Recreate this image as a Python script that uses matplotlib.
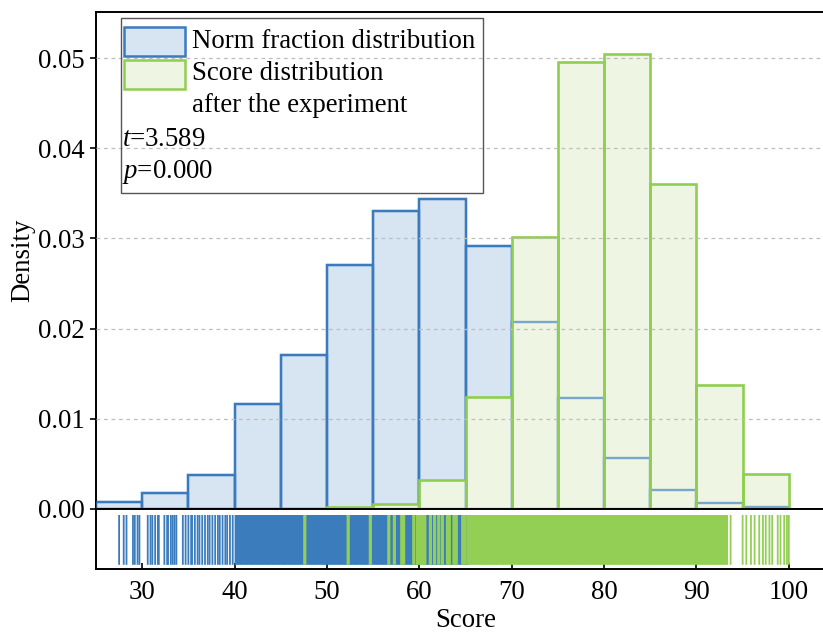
import numpy as np
import matplotlib
matplotlib.use('Agg')
import matplotlib.pyplot as plt
from matplotlib.patches import Rectangle

plt.rcParams['font.family'] = ['Liberation Serif', 'DejaVu Serif']
plt.rcParams['mathtext.fontset'] = 'custom'
plt.rcParams['mathtext.rm'] = 'Liberation Serif'
plt.rcParams['mathtext.it'] = 'Liberation Serif:italic'

# ---------------- data ----------------
bin_edges = [25, 30, 35, 40, 45, 50, 55, 60, 65, 70, 75, 80, 85, 90, 95, 100]
norm_density = [0.00073, 0.00177, 0.0038, 0.01164, 0.0171, 0.0270, 0.0330, 0.0344,
                0.0292, 0.0207, 0.0123, 0.00565, 0.00214, 0.00066, 0.0002]
after_density = [0.0, 0.0, 0.0, 0.0, 0.00005, 0.0002, 0.00058, 0.0032,
                 0.0124, 0.0302, 0.0496, 0.0504, 0.0360, 0.01375, 0.00388]

norm_rug = [27.5, 28.0, 28.3, 29.0, 29.2, 29.5, 29.7,
            30.6, 30.9, 31.1, 31.4, 31.7, 31.8, 32.4, 32.7, 32.8, 33.1, 33.3, 33.5, 33.7, 34.4, 34.7,
            35.0, 35.3, 35.4, 35.7, 36.0, 36.2, 36.5, 36.8, 37.1, 37.3, 37.6, 37.9, 38.2, 38.4,
            38.7, 39.0, 39.2, 39.5, 39.8, 40.1,
            40.25, 40.5, 40.75, 41.0, 41.25, 41.5, 41.75, 42.0, 42.25, 42.5, 42.75, 43.0,
            43.25, 43.5, 43.75, 44.0, 44.25, 44.5, 44.75, 45.0, 45.25, 45.5, 45.75, 46.0,
            46.25, 46.5, 46.75, 47.0, 47.25, 47.5, 47.75, 48.0, 48.25, 48.5, 48.75, 49.0,
            49.25, 49.5, 49.75, 50.0, 50.25, 50.5, 50.75, 51.0, 51.25, 51.5, 51.75, 52.0,
            52.25, 52.5, 52.75, 53.0, 53.25, 53.5, 53.75, 54.0, 54.25, 54.5, 54.75, 55.0,
            55.25, 55.5, 55.75, 56.0, 56.25, 56.5, 56.75, 57.0, 57.25, 57.5, 57.75, 58.0,
            58.25, 58.5, 58.75, 59.0, 59.25, 59.5, 59.75, 60.0, 60.25, 60.5, 60.75, 61.0,
            61.25, 61.5, 61.75, 62.0, 62.25, 62.5, 62.75, 63.0, 63.25, 63.5, 63.75, 64.0,
            64.25, 64.5, 64.75, 65.0, 65.2]

after_rug = [47.6, 52.3, 54.7, 56.7, 57.3, 58.1, 58.3, 59.4,
             59.8, 60.0, 60.2, 60.4, 60.6, 61.2, 61.65, 62.1, 62.5, 63.05, 63.25, 63.75, 64.0,
             64.7, 64.9,
             65.25, 65.5, 65.75, 66.0, 66.25, 66.5, 66.75, 67.0, 67.25, 67.5, 67.75, 68.0,
             68.25, 68.5, 68.75, 69.0, 69.25, 69.5, 69.75, 70.0, 70.25, 70.5, 70.75, 71.0,
             71.25, 71.5, 71.75, 72.0, 72.25, 72.5, 72.75, 73.0, 73.25, 73.5, 73.75, 74.0,
             74.25, 74.5, 74.75, 75.0, 75.25, 75.5, 75.75, 76.0, 76.25, 76.5, 76.75, 77.0,
             77.25, 77.5, 77.75, 78.0, 78.25, 78.5, 78.75, 79.0, 79.25, 79.5, 79.75, 80.0,
             80.25, 80.5, 80.75, 81.0, 81.25, 81.5, 81.75, 82.0, 82.25, 82.5, 82.75, 83.0,
             83.25, 83.5, 83.75, 84.0, 84.25, 84.5, 84.75, 85.0, 85.25, 85.5, 85.75, 86.0,
             86.25, 86.5, 86.75, 87.0, 87.25, 87.5, 87.75, 88.0, 88.25, 88.5, 88.75, 89.0,
             89.25, 89.5, 89.75, 90.0, 90.25, 90.5, 90.75, 91.0, 91.25, 91.5, 91.75, 92.0,
             92.25, 92.5, 92.75, 93.0, 93.25,
             93.7, 95.0, 95.4, 95.9, 96.3, 96.8, 97.2, 97.5, 97.9, 98.2, 98.8, 99.1, 99.5, 99.8, 100.0]

y_ticks = [0.00, 0.01, 0.02, 0.03, 0.04, 0.05]
x_ticks = [30, 40, 50, 60, 70, 80, 90, 100]
label_norm = 'Norm fraction distribution'
label_after_1 = 'Score distribution'
label_after_2 = 'after the experiment'
stat_t = '3.589'
stat_p = '0.000'

# ---------------- style ----------------
blue_edge = '#3a7bbf'
blue_fill = '#d7e5f2'
green_edge = '#8fce4f'
green_fill = '#eef6e3'
rug_blue = '#3b7cbd'
rug_green = '#93cf55'
FS = 19.3

W, H = 823, 632
L, R = 96, 835
T, B0, B1 = 12, 509, 569

fig = plt.figure(figsize=(W / 100, H / 100), dpi=100)
ax = fig.add_axes([L / W, 1 - B0 / H, (R - L) / W, (B0 - T) / H])
ax2 = fig.add_axes([L / W, 1 - B1 / H, (R - L) / W, (B1 - B0) / H], sharex=ax)

edges = np.array(bin_edges, dtype=float)
left = edges[:-1]
widths = np.diff(edges)
nd = np.array(norm_density)
ad = np.array(after_density)
m = ad > 0

ax.bar(left, nd, width=widths, align='edge', color=blue_fill, edgecolor=blue_edge,
       linewidth=1.7, zorder=2)
ax.bar(left[m], ad[m], width=widths[m], align='edge', color=green_fill,
       edgecolor='none', zorder=3)
ax.bar(left, nd, width=widths, align='edge', fill=False, edgecolor=blue_edge,
       alpha=0.65, linewidth=1.7, zorder=4)
ax.bar(left[m], ad[m], width=widths[m], align='edge', fill=False, edgecolor=green_edge,
       linewidth=1.9, zorder=5)

ax.set_xlim(25, 105)
ax.set_ylim(0, (B0 - T) / 9020.0)
ax.set_yticks(y_ticks)
ax.set_yticklabels([f'{v:.2f}' for v in y_ticks])
for v in y_ticks[1:]:
    ax.axhline(v, color='#bdbdbd', lw=0.9, ls=(0, (3, 3)), zorder=6)
ax.tick_params(axis='y', direction='out', length=4, width=1.2, labelsize=FS, pad=4)
ax.tick_params(axis='x', bottom=False, labelbottom=False)
ax.set_ylabel('Density', fontsize=FS, labelpad=2)
for s in ax.spines.values():
    s.set_linewidth(1.4)

# legend drawn manually
def axc(px, py):
    return ((px - L) / (R - L), (B0 - py) / (B0 - T))

def aw(pw):
    return pw / (R - L)

def ah(ph):
    return ph / (B0 - T)

ax.add_patch(Rectangle(axc(121, 193), aw(362), ah(175), transform=ax.transAxes,
                       fill=False, ec='#555555', lw=1.0, zorder=7))
ax.add_patch(Rectangle(axc(124, 56), aw(61), ah(29), transform=ax.transAxes,
                       fc=blue_fill, ec=blue_edge, lw=1.8, zorder=7))
ax.add_patch(Rectangle(axc(124, 89), aw(61), ah(29), transform=ax.transAxes,
                       fc=green_fill, ec=green_edge, lw=1.8, zorder=7))
txt_kw = dict(transform=ax.transAxes, fontsize=FS, ha='left', va='center', zorder=8)
ax.text(*axc(192, 41), label_norm, **txt_kw)
ax.text(*axc(192, 74), label_after_1, **txt_kw)
ax.text(*axc(192, 106), label_after_2, **txt_kw)
ax.text(*axc(122, 140), r'$t$=' + stat_t, **txt_kw)
ax.text(*axc(122, 172), r'$p$=' + stat_p, **txt_kw)

# rug: thin lines where isolated, thicker where the marks are packed
def rug_widths(vals):
    v = np.asarray(vals, dtype=float)
    return np.where((v > 40.2) & (v < 93.3), 2.3, 1.3)

ax2.vlines(norm_rug, 0.07, 0.9, colors=rug_blue, linewidths=rug_widths(norm_rug),
           zorder=2, snap=False)
ax2.vlines(after_rug, 0.07, 0.9, colors=rug_green, linewidths=rug_widths(after_rug),
           zorder=3, snap=False)
ax2.set_ylim(0, 1)
ax2.set_yticks([])
ax2.set_xticks(x_ticks)
ax2.tick_params(axis='x', direction='in', length=4, width=1.2, labelsize=FS, pad=8)
ax2.set_xlabel('Score', fontsize=FS, labelpad=2)
for s in ax2.spines.values():
    s.set_linewidth(1.4)

fig.savefig('out.png', dpi=100)
